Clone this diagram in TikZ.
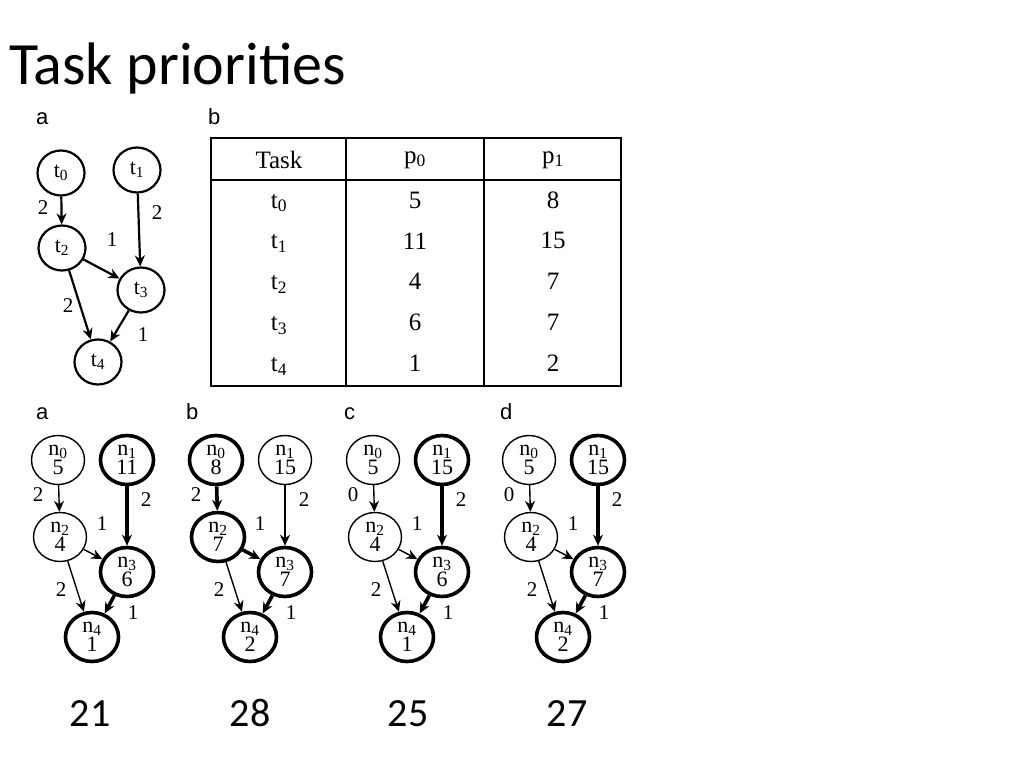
\documentclass[tikz,border=0pt]{standalone}
\usepackage{fontspec}
\setmainfont{Liberation Serif}
\newfontfamily\titlefont{Carlito}
\newfontfamily\labelfont{Liberation Sans}
\usetikzlibrary{shapes.geometric,arrows.meta}
\tikzset{
  tnode/.style={ellipse,draw,line width=2.2pt,minimum width=47pt,minimum height=45pt,inner sep=0pt,font=\fontsize{22}{22}\selectfont},
  nnode/.style={ellipse,draw,minimum width=53pt,minimum height=49pt,inner sep=0pt,align=center,font=\fontsize{22}{19}\selectfont},
  thn/.style={line width=1.4pt},
  thk/.style={line width=3.6pt},
  arr/.style={-{Stealth[length=11pt,width=10pt]}},
  wlabel/.style={font=\fontsize{21}{21}\selectfont},
  panel/.style={font=\labelfont\fontsize{22}{22}\selectfont,anchor=base west},
  score/.style={font=\titlefont\fontsize{40}{40}\selectfont,anchor=base}
}
% one schedule graph: shift, values n0..n4, weight n0->n2, style of left path, style of right path
\newcommand\ngraph[9]{
  \begin{scope}[xshift=#1]
    \node[nnode,#8] (n0) at (216,460) {n\textsubscript{0}\\#2};
    \node[nnode,#9] (n1) at (285,460) {n\textsubscript{1}\\#3};
    \node[nnode,#8] (n2) at (218,537) {n\textsubscript{2}\\#4};
    \node[nnode,thk] (n3) at (285,572) {n\textsubscript{3}\\#5};
    \node[nnode,thk] (n4) at (250,637) {n\textsubscript{4}\\#6};
    \draw[arr,#8] (n0) -- (n2);
    \draw[arr,#9] (n1) -- (n3);
    \draw[arr,#8] (n2) -- (n3);
    \draw[arr,thn] (n2) -- (n4);
    \draw[arr,thk] (n3) -- (n4);
    \node[wlabel] at (196,495) {#7};
    \node[wlabel] at (304,500) {2};
    \node[wlabel] at (260,524) {1};
    \node[wlabel] at (219,590) {2};
    \node[wlabel] at (291,613) {1};
  \end{scope}
}
\begin{document}
\begin{tikzpicture}[x=1pt,y=-1pt]
  \useasboundingbox (0,0) rectangle (1024,768);
  \node[font=\titlefont\fontsize{60}{60}\selectfont,anchor=base west,inner sep=0pt] (title) at (9,84) {Task priorities};
  \node[panel,inner sep=0pt] (pa) at (36,124) {a};
  \node[panel,inner sep=0pt] (pb) at (208,124) {b};
  % task graph
  \begin{scope}
    \node[tnode] (t0) at (61,173) {t\textsubscript{0}};
    \node[tnode] (t1) at (137,170) {t\textsubscript{1}};
    \node[tnode] (t2) at (62,248) {t\textsubscript{2}};
    \node[tnode] (t3) at (141,290) {t\textsubscript{3}};
    \node[tnode] (t4) at (98,362) {t\textsubscript{4}};
    \draw[arr,line width=2.2pt] (t0) -- (t2);
    \draw[arr,line width=2.2pt] (t1) -- (t3);
    \draw[arr,line width=2.2pt] (t2) -- (t3);
    \draw[arr,line width=2.2pt] (t2) -- (t4);
    \draw[arr,line width=2.2pt] (t3) -- (t4);
    \node[wlabel] at (43,208) {2};
    \node[wlabel] at (157,213) {2};
    \node[wlabel] at (112,240) {1};
    \node[wlabel] at (68,306) {2};
    \node[wlabel] at (143,335) {1};
  \end{scope}
  % priority table
  \begin{scope}[font=\fontsize{25}{25}\selectfont]
    \draw[line width=2.6pt] (211,138) rectangle (621,386);
    \draw[line width=1.6pt] (211,180) -- (621,180);
    \draw[line width=1.6pt] (346,138) -- (346,386) (484,138) -- (484,386);
    \node (h0) at (279,160) {Task};
    \node (h1) at (415,160) {p\textsubscript{0}};
    \node (h2) at (553,160) {p\textsubscript{1}};
    \foreach \t/\a/\b [count=\i from 0] in {0/5/8,1/11/15,2/4/7,3/6/7,4/1/2}{
      \node at (279,{203+40.8*\i}) {t\textsubscript{\t}};
      \node at (415,{200+40.8*\i}) {\a};
      \node at (553,{200+40.8*\i}) {\b};
    }
  \end{scope}
  % schedules
  \node[panel,inner sep=0pt] (qa) at (36,419) {a};
  \node[panel,inner sep=0pt] (qb) at (186,419) {b};
  \node[panel,inner sep=0pt] (qc) at (344,419) {c};
  \node[panel,inner sep=0pt] (qd) at (500,419) {d};
  \ngraph{-158}{5}{11}{4}{6}{1}{2}{thn}{thk}
  \ngraph{0}{8}{15}{7}{7}{2}{2}{thk}{thn}
  \ngraph{157}{5}{15}{4}{6}{1}{0}{thn}{thk}
  \ngraph{313}{5}{15}{4}{7}{2}{0}{thn}{thk}
  \node[score] (s1) at (90,726) {21};
  \node[score] (s2) at (250,726) {28};
  \node[score] (s3) at (408,726) {25};
  \node[score] (s4) at (567,726) {27};
\end{tikzpicture}
\end{document}
